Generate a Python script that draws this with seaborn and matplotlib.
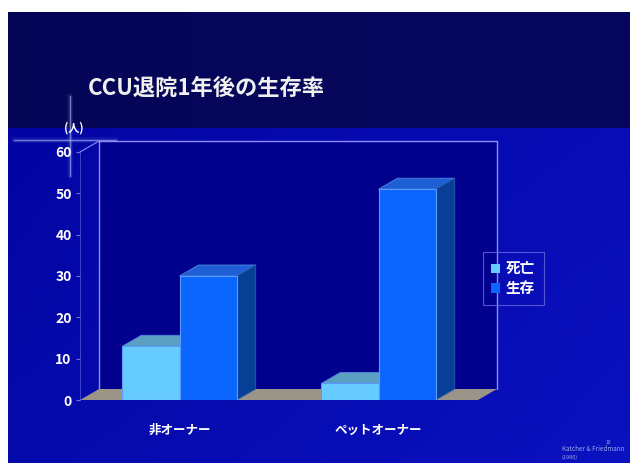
import numpy as np
import pandas as pd
import matplotlib
import matplotlib.pyplot as plt
import seaborn as sns
from matplotlib.patches import Polygon, Patch

matplotlib.use('Agg')

# data
groups = ['非オーナー', 'ペットオーナー']
status = ['死亡', '生存']
dead = [13, 4]
alive = [30, 51]
y_ticks = [0, 10, 20, 30, 40, 50, 60]

front_colors = {'死亡': '#66ccff', '生存': '#0a66ff'}
top_colors = {'死亡': '#5b9fc4', '生存': '#1f5fd6'}
side_colors = {'死亡': '#3b86b8', '生存': '#063f93'}

sns.set_style('white')
plt.rcParams['font.family'] = ['Noto Sans CJK JP', 'DejaVu Sans']
plt.rcParams['font.weight'] = 'bold'

W, H = 630, 463
fig = plt.figure(figsize=(W / 100, H / 100), dpi=100)

# background: dark band on top, blue body below
bg = fig.add_axes([0, 0, 1, 1])
yy, xx = np.mgrid[0:H, 0:W]
img = np.zeros((H, W, 3))
body = np.array([0.01, 0.01, 0.62]) + (xx / W)[..., None] * np.array([0.02, 0.03, 0.08]) \
    + (yy / H)[..., None] * np.array([0.01, 0.03, 0.05])
band = np.array([0.02, 0.02, 0.34]) + (xx / W)[..., None] * np.array([0.0, 0.0, 0.03])
img[:] = body
img[yy < 128] = band[yy < 128]
img[yy < 12] = 1.0
img[:, :8] = 1.0
bg.imshow(np.clip(img, 0, 1), extent=[0, W, H, 0], aspect='auto', zorder=0)
bg.set_xlim(0, W)
bg.set_ylim(H, 0)
bg.axis('off')

# cross-hair glow near the unit label
for lw, a in [(4, 0.08), (2, 0.15), (0.8, 0.5)]:
    bg.plot([14, 116], [140, 140], color='#b8c8ff', lw=lw, alpha=a, solid_capstyle='round')
    bg.plot([70, 70], [96, 176], color='#b8c8ff', lw=lw, alpha=a, solid_capstyle='round')

bg.text(88, 88, 'CCU退院1年後の生存率', color='#f0f0f0', fontsize=16, fontweight='bold',
        va='center', ha='left')
bg.text(74, 128, '(人)', color='white', fontsize=8, fontweight='bold', va='center', ha='center')

# main chart
df = pd.DataFrame({
    'group': groups * 2,
    'status': [status[0]] * len(groups) + [status[1]] * len(groups),
    'count': dead + alive,
})

ax = fig.add_axes([80 / W, 63 / H, 398 / W, 248 / H])
ax.patch.set_alpha(0)
sns.barplot(data=df, x='group', y='count', hue='status', hue_order=status, order=groups,
            palette=front_colors, width=0.575, saturation=1, legend=False, ax=ax,
            edgecolor='#5a9aff', linewidth=0.8, zorder=4)
ax.set_xlim(-0.5, 1.5)
ax.set_ylim(0, 60)

# depth offset of the 3D look
dx = 2.0 * 19 / 398
dy = 60 * 11 / 248

for i, bar in enumerate(ax.patches):
    s = status[i // len(groups)]
    x0 = bar.get_x()
    x1 = x0 + bar.get_width()
    h = bar.get_height()
    top = Polygon([(x0, h), (x1, h), (x1 + dx, h + dy), (x0 + dx, h + dy)],
                  closed=True, facecolor=top_colors[s], edgecolor='#4f86d8', lw=0.6,
                  zorder=3, clip_on=False)
    side = Polygon([(x1, 0), (x1 + dx, dy), (x1 + dx, h + dy), (x1, h)],
                   closed=True, facecolor=side_colors[s], edgecolor='#2a5cb0', lw=0.6,
                   zorder=3, clip_on=False)
    ax.add_patch(top)
    ax.add_patch(side)

# floor and walls
x_lo, x_hi = ax.get_xlim()
wall = Polygon([(x_lo + dx, dy), (x_hi + dx, dy), (x_hi + dx, 60 + dy), (x_lo + dx, 60 + dy)],
               closed=True, facecolor='#01018e', edgecolor='none', zorder=0.2, clip_on=False)
ax.add_patch(wall)
floor = Polygon([(x_lo, 0), (x_hi, 0), (x_hi + dx, dy), (x_lo + dx, dy)], closed=True,
                facecolor='#9a9588', edgecolor='none', zorder=1, clip_on=False)
ax.add_patch(floor)
wall_col = '#8c8cff'
ax.plot([x_lo + dx, x_lo + dx, x_hi + dx, x_hi + dx], [dy, 60 + dy, 60 + dy, dy],
        color=wall_col, lw=1, zorder=0.5, clip_on=False)
ax.plot([x_lo, x_lo + dx], [60, 60 + dy], color=wall_col, lw=0.8, zorder=0.5, clip_on=False)
ax.plot([x_lo, x_lo], [0, 60], color=wall_col, lw=0.6, alpha=0.5, zorder=0.5, clip_on=False)

sns.despine(ax=ax, left=True, bottom=True)
ax.set_yticks(y_ticks)
ax.set_yticklabels([str(t) for t in y_ticks], color='white', fontsize=10, fontweight='bold')
ax.tick_params(axis='y', length=3, color='#7070d0', pad=3, left=True)
ax.tick_params(axis='x', length=0, pad=17)
ax.set_xticks(range(len(groups)))
ax.set_xticklabels(groups, color='white', fontsize=9, fontweight='bold')
ax.set_xlabel('')
ax.set_ylabel('')
ax.grid(False)

handles = [Patch(facecolor=front_colors[s], edgecolor='none', label=s) for s in status]
leg = fig.legend(handles=handles, loc='upper left', bbox_to_anchor=(487 / W, 1 - 256 / H),
                 frameon=True, fontsize=10.5, handlelength=0.6, handleheight=0.6,
                 handletextpad=0.4, borderpad=0.3, labelspacing=0.25, borderaxespad=0)
leg.get_frame().set_facecolor('none')
leg.get_frame().set_edgecolor('#6a6ae0')
leg.get_frame().set_linewidth(0.8)
leg.get_frame().set_boxstyle('square')
for t in leg.get_texts():
    t.set_color('white')
    t.set_fontweight('bold')

# source note
bg.text(562, 449, 'Katcher & Friedmann', color='#9aa8e8', fontsize=4.5, va='center', ha='left',
        fontweight='normal')
bg.text(606, 442, '10', color='#9aa8e8', fontsize=3.5, va='center', ha='left', fontweight='normal')
bg.text(562, 457, '(1980)', color='#9aa8e8', fontsize=4, va='center', ha='left', fontweight='normal')

fig.savefig('out.png', dpi=100)
